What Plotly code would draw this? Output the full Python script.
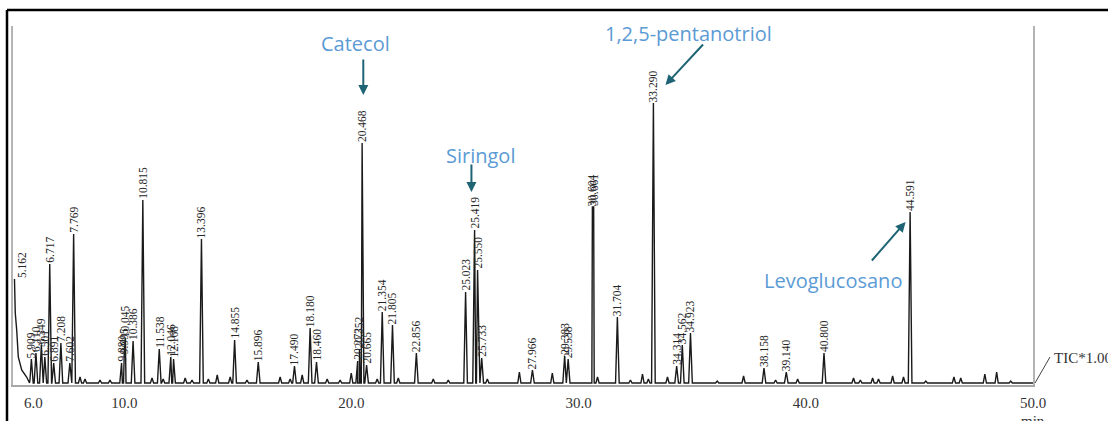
import plotly.graph_objects as go

# ---------------- data ----------------
# labelled peaks: retention time (min), label text, apex height (arbitrary units)
peak_rt = [5.077, 5.162, 5.909, 6.110, 6.349, 6.501, 6.717, 6.891, 7.208, 7.602, 7.769,
           9.880, 9.995, 10.045, 10.386, 10.815, 11.538, 12.046, 12.168, 13.396, 14.855,
           15.896, 17.490, 18.180, 18.460, 20.272, 20.352, 20.468, 20.665, 21.354, 21.805,
           22.856, 25.023, 25.419, 25.550, 25.733, 27.966, 29.383, 29.538, 30.604, 30.661,
           31.704, 33.290, 34.314, 34.562, 34.923, 38.158, 39.140, 40.800, 44.591]
peak_label = ["5.077", "5.162", "5.909", "6.110", "6.349", "6.501", "6.717", "6.891", "7.208", "7.602", "7.769",
              "9.880", "9.995", "10.045", "10.386", "10.815", "11.538", "12.046", "12.168", "13.396", "14.855",
              "15.896", "17.490", "18.180", "18.460", "20.272", "20.352", "20.468", "20.665", "21.354", "21.805",
              "22.856", "25.023", "25.419", "25.550", "25.733", "27.966", "29.383", "29.538", "30.604", "30.661",
              "31.704", "33.290", "34.314", "34.562", "34.923", "38.158", "39.140", "40.800", "44.591"]
peak_h = [41, 104, 24, 30, 38, 26, 119, 20, 40, 20, 149,
          20, 28, 45, 42, 183, 34, 26, 24, 144, 43,
          21, 17, 55, 21, 22, 34, 240, 18, 71, 58,
          30, 91, 153, 113, 25, 13, 27, 24, 176, 176,
          66, 280, 17, 38, 50, 15, 11, 30, 171]

# solvent tail at the start of the run
tail_rt = [5.165, 5.20, 5.263, 5.333, 5.483, 5.70, 5.85]
tail_h = [104, 70, 53, 26, 13, 6, 4]

# small unlabelled bumps of the baseline
minor_rt = [8.05, 8.27, 8.93, 9.37, 11.22, 11.71, 12.68, 12.98, 13.70, 14.09, 14.66, 15.40,
            16.86, 17.30, 17.83, 18.93, 19.50, 19.99, 21.13, 22.06, 23.60, 24.26, 25.98,
            27.39, 28.84, 30.83, 32.28, 32.81, 33.07, 33.91, 36.10, 37.26, 38.67, 39.64,
            42.10, 42.40, 42.94, 43.20, 43.82, 44.30, 45.28, 46.52, 46.82, 47.88, 48.40, 49.02]
minor_h = [6, 4, 3, 3, 5, 4, 5, 3, 4, 8, 6, 3,
           6, 4, 8, 4, 3, 10, 4, 5, 4, 3, 4,
           11, 10, 6, 3, 9, 4, 6, 2, 7, 3, 4,
           5, 3, 5, 4, 7, 6, 2, 6, 5, 9, 11, 2]

x_tick_vals = [6.0, 10.0, 20.0, 30.0, 40.0, 50.0]
x_tick_text = ["6.0", "10.0", "20.0", "30.0", "40.0", "50.0"]

# named compounds
compounds = ["Catecol", "Siringol", "1,2,5-pentanotriol", "Levoglucosano"]

# ---------------- layout constants ----------------
W, H = 1108, 421
ML, MR, MT, MB = 13, 75, 26, 36
PW, PH = W - ML - MR, H - MT - MB
X0, X1 = 5.1, 50.0
Y0, Y1 = -2, 357


def px_x(px):
    return (px - ML) / PW


def px_y(py):
    return (H - MB - py) / PH


# ---------------- build chromatogram line from the peak table ----------------
pts = list(zip(tail_rt, tail_h))
w_main = 0.08
for rt, h in zip(peak_rt, peak_h):
    if rt > tail_rt[-1]:
        pts += [(rt - w_main, 0), (rt, h), (rt + w_main, 0)]
w_minor = 0.07
for rt, h in zip(minor_rt, minor_h):
    pts += [(rt - w_minor, 0), (rt, h), (rt + w_minor, 0)]
pts.append((X1, 0))
pts.sort(key=lambda p: p[0])
cx = [p[0] for p in pts]
cy = [p[1] for p in pts]

fig = go.Figure()
fig.add_trace(go.Scatter(x=cx, y=cy, mode="lines",
                         line=dict(color="#1a1a1a", width=1.4),
                         hoverinfo="skip", showlegend=False))

# integration tick marks below the baseline
tick_rt = [r for r in peak_rt if r >= X0]
fig.add_trace(go.Scatter(x=tick_rt, y=[-8] * len(tick_rt),
                         mode="markers", cliponaxis=False,
                         marker=dict(symbol="line-ns", size=11,
                                     line=dict(color="#8a8a8a", width=1)),
                         hoverinfo="skip", showlegend=False))

annotations = []
label_font = dict(family="Liberation Serif, Times New Roman, serif", size=11.5, color="#262626")
for rt, lbl, h in zip(peak_rt, peak_label, peak_h):
    xs = 0
    if rt < 5.2:
        xs = 22 - (ML + (rt - X0) * PW / (X1 - X0))
    annotations.append(dict(x=rt, y=h, xref="x", yref="y", text=lbl, textangle=-90,
                            showarrow=False, xanchor="center", yanchor="bottom",
                            xshift=xs, yshift=0, borderpad=0, font=label_font))

# compound names (blue) with teal arrows
name_font = dict(family="Open Sans, Noto Sans, sans-serif", size=20, color="#5b9bd5")
name_pos = [(20.17, 340), (25.67, 228), (34.84, 350), (41.18, 103)]
arrow_head = [(20.52, 288), (25.28, 191), (33.82, 298), (44.39, 161)]
arrow_tail = [(0, -37), (0, -29), (39, -42), (-35, 40)]
for name, (tx, ty), (hx, hy), (ax, ay) in zip(compounds, name_pos, arrow_head, arrow_tail):
    annotations.append(dict(x=tx, y=ty, xref="x", yref="y", text=name, showarrow=False,
                            xanchor="center", yanchor="middle", font=name_font))
    annotations.append(dict(x=hx, y=hy, xref="x", yref="y", text="", showarrow=True,
                            ax=ax, ay=ay, arrowhead=2, arrowsize=1, arrowwidth=2,
                            arrowcolor="#1e6474", standoff=0))

serif15 = dict(family="Liberation Serif, Times New Roman, serif", size=15, color="#333333")
annotations.append(dict(x=px_x(1052), y=px_y(358), xref="paper", yref="paper", text="TIC*1.00",
                        showarrow=False, xanchor="left", yanchor="middle", font=serif15))
annotations.append(dict(x=px_x(1033), y=px_y(411), xref="paper", yref="paper", text="min",
                        showarrow=False, xanchor="center", yanchor="top", font=serif15))

shapes = [
    dict(type="line", xref="paper", yref="paper", x0=px_x(7), x1=px_x(7), y0=px_y(H), y1=px_y(10),
         line=dict(color="black", width=2.5)),
    dict(type="line", xref="paper", yref="paper", x0=px_x(7), x1=px_x(W), y0=px_y(10), y1=px_y(10),
         line=dict(color="black", width=2.5)),
    dict(type="line", xref="paper", yref="paper", x0=px_x(1035), x1=px_x(1050), y0=px_y(383), y1=px_y(357),
         line=dict(color="#444444", width=1)),
]

fig.update_layout(
    width=W, height=H,
    margin=dict(l=ML, r=MR, t=MT, b=MB, pad=0),
    paper_bgcolor="white", plot_bgcolor="white",
    showlegend=False,
    annotations=annotations, shapes=shapes,
    xaxis=dict(range=[X0, X1], showgrid=False, zeroline=False, automargin=False,
               showline=True, linecolor="#a8a8a8", linewidth=2,
               ticks="outside", ticklen=3, tickcolor="rgba(0,0,0,0)",
               tickvals=x_tick_vals, ticktext=x_tick_text, tickfont=serif15),
    yaxis=dict(range=[Y0, Y1], showgrid=False, zeroline=False, showticklabels=False,
               automargin=False,
               showline=True, linecolor="#b4b4b4", linewidth=2, mirror=True, ticks=""),
)

fig.write_html("out.html")
